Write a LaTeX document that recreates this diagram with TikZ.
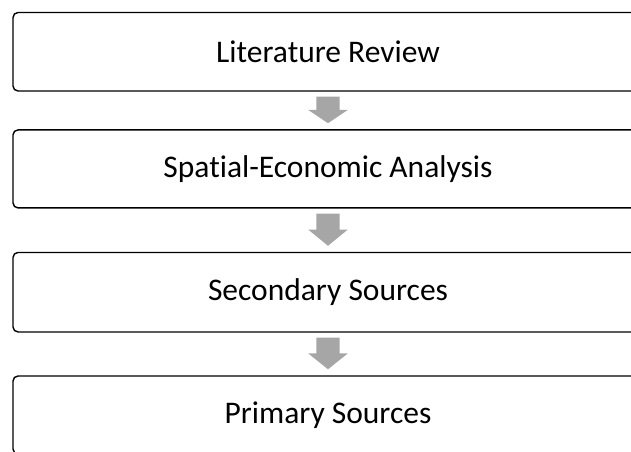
\documentclass[tikz,border=0pt]{standalone}
\usepackage{fontspec}
\setmainfont[Ligatures=NoCommon]{Carlito}
\usetikzlibrary{calc}
\tikzset{
  x=1pt, y=-1pt,
  stagebox/.style={draw=black, line width=1.4pt, rounded corners=5pt, fill=white,
    minimum width=630pt, minimum height=78pt, inner sep=0pt,
    font=\fontsize{31.5}{36}\selectfont},
  flowarrow/.style={fill=black!35, draw=none},
}
% downward block arrow between two stacked stages
\newcommand{\blockarrow}[2]{%
  \coordinate (#1-top) at ($(#1.south)+(0,5)$);
  \coordinate (#1-tip) at ($(#2.north)+(0,-6)$);
  \coordinate (#1-mid) at ($(#1-top)!0.5!(#1-tip)$);
  \fill[flowarrow] ($(#1-top)+(-11.7,0)$) -- ($(#1-top)+(11.7,0)$)
    -- ($(#1-mid)+(11.7,0)$) -- ($(#1-mid)+(19.7,0)$) -- (#1-tip)
    -- ($(#1-mid)+(-19.7,0)$) -- ($(#1-mid)+(-11.7,0)$) -- cycle;
}
\begin{document}
\begin{tikzpicture}
\useasboundingbox (0,0) rectangle (631,451);
\clip (0,0) rectangle (631,451);
\node[stagebox, minimum height=78.5pt] (s1) at (328,51.75) {Literature Review};
\node[stagebox] (s2) at (328,168.9) {Spatial-Economic Analysis};
\node[stagebox, minimum height=79.5pt] (s3) at (328,292.2) {Secondary Sources};
\node[stagebox] (s4) at (328,415) {Primary Sources};
\blockarrow{s1}{s2}
\blockarrow{s2}{s3}
\blockarrow{s3}{s4}
\end{tikzpicture}
\end{document}
